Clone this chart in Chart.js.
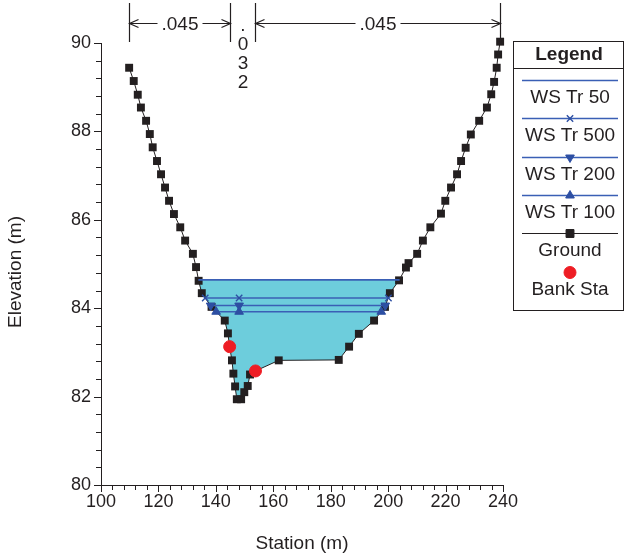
<!DOCTYPE html>
<html>
<head>
<meta charset="utf-8">
<script src="https://cdn.jsdelivr.net/npm/chart.js"></script>
<style>
  html, body { margin: 0; padding: 0; background: #fff; }
  #wrap { width: 624px; height: 559px; }
</style>
</head>
<body>
<div id="wrap"><canvas id="xsec" width="624" height="559"></canvas></div>
<script>
// cross section ground points (station m, elevation m)
const groundSta = [
  109.8, 111.4, 112.8, 113.9, 115.7, 117.0, 118.0, 119.5, 120.9, 122.3,
  123.7, 125.4, 127.6, 129.3, 132.0, 133.1, 134.0, 135.1, 138.5, 143.1,
  144.2, 144.8, 145.6, 146.1, 146.7, 147.3, 148.8, 149.9, 151.1, 151.9,
  153.8, 161.9, 182.8, 186.4, 189.8, 195.1, 198.9, 200.6, 203.8, 206.2,
  207.1, 210.1, 212.1, 214.7, 218.4, 219.9, 221.9, 224.0, 225.4, 227.0,
  228.8, 231.7, 234.4, 235.9, 236.9, 237.8, 238.3, 239.0
];
const groundElev = [
  89.44, 89.14, 88.83, 88.54, 88.24, 87.94, 87.64, 87.33, 87.03, 86.73,
  86.43, 86.13, 85.83, 85.53, 85.23, 84.93, 84.62, 84.34, 84.03, 83.72,
  83.43, 83.13, 82.82, 82.52, 82.23, 81.94, 81.94, 82.10, 82.24, 82.50,
  82.58, 82.82, 82.83, 83.13, 83.42, 83.72, 84.03, 84.34, 84.63, 84.92,
  85.02, 85.23, 85.53, 85.83, 86.14, 86.43, 86.73, 87.03, 87.33, 87.63,
  87.93, 88.24, 88.54, 88.84, 89.12, 89.44, 89.74, 90.03
];

// bank stations
const bankSta = [144.8, 153.8];
const bankElev = [83.13, 82.58];

// water surfaces
const wsNames = ['WS Tr 50', 'WS Tr 500', 'WS Tr 200', 'WS Tr 100'];
const wsElev = [84.64, 84.23, 84.06, 83.92];
const wsLeft = [133.9, 136.3, 138.2, 140.1];
const wsMid = [148.1, 148.1, 148.1, 148.1];
const wsRight = [204.0, 200.1, 199.0, 197.6];
const wsMarker = [false, 'crossRot', 'triangle', 'triangle'];
const wsRotation = [0, 0, 180, 0];

// manning's n changes
const nSta = [109.8, 144.8, 153.8, 239.0];
const nLabels = ['.045', '.032', '.045'];

const xTicks = { min: 100, max: 240, step: 4, major: 20 };
const yTicks = { min: 80, max: 90, step: 0.4, major: 2 };

const FONT = '"Liberation Sans", Arial, Helvetica, sans-serif';
const INK = '#231f20';
const WS_LINE = '#3a5fb5';
const WS_MARK = '#2d4fa3';
const WATER = '#6dcddc';

const isMajor = (v, m) => Math.abs(v / m - Math.round(v / m)) < 1e-6;

const datasets = [];
datasets.push({
  label: 'Bank Sta',
  data: bankSta.map((s, i) => ({ x: s, y: bankElev[i] })),
  showLine: false,
  pointStyle: 'circle',
  pointRadius: 6,
  pointBackgroundColor: '#ee1d24',
  pointBorderColor: '#ee1d24',
  order: 0,
  clip: false
});
wsNames.forEach((name, i) => {
  datasets.push({
    label: name,
    data: [
      { x: wsLeft[i], y: wsElev[i] },
      { x: wsMid[i], y: wsElev[i] },
      { x: wsRight[i], y: wsElev[i] }
    ],
    borderColor: WS_LINE,
    borderWidth: 1.6,
    pointStyle: wsMarker[i] || 'circle',
    pointRadius: wsMarker[i] ? (wsMarker[i] === 'crossRot' ? 4.5 : 5) : 0,
    pointRotation: wsRotation[i],
    pointBorderWidth: wsMarker[i] === 'crossRot' ? 1.4 : 1,
    pointBackgroundColor: WS_MARK,
    pointBorderColor: WS_MARK,
    tension: 0,
    fill: false,
    order: i + 1
  });
});
datasets.push({
  label: 'Ground',
  data: groundSta.map((s, i) => ({ x: s, y: groundElev[i] })),
  borderColor: INK,
  borderWidth: 1,
  pointStyle: 'rect',
  pointRadius: 5.6,
  pointBackgroundColor: INK,
  pointBorderColor: INK,
  pointBorderWidth: 0,
  tension: 0,
  fill: { target: { value: Math.max(...wsElev) }, above: 'rgba(0,0,0,0)', below: WATER },
  order: 10,
  clip: false
});

// small plugins: tick marks, axis titles, n-value bar, legend box
const tickMarks = {
  id: 'tickMarks',
  afterDraw(chart) {
    const { ctx, chartArea } = chart;
    const x = chart.scales.x, y = chart.scales.y;
    ctx.save();
    ctx.strokeStyle = INK;
    ctx.lineWidth = 1;
    ctx.beginPath();
    x.ticks.forEach(t => {
      const p = Math.round(x.getPixelForValue(t.value)) + 0.5;
      const len = isMajor(t.value, xTicks.major) ? 7 : 5;
      ctx.moveTo(p, chartArea.bottom);
      ctx.lineTo(p, chartArea.bottom + len);
    });
    y.ticks.forEach(t => {
      const p = Math.round(y.getPixelForValue(t.value)) + 0.5;
      const len = isMajor(t.value, yTicks.major) ? 7 : 5;
      ctx.moveTo(chartArea.left, p);
      ctx.lineTo(chartArea.left - len, p);
    });
    ctx.stroke();

    ctx.fillStyle = INK;
    ctx.font = '19px ' + FONT;
    ctx.textAlign = 'center';
    ctx.textBaseline = 'middle';
    ctx.fillText('Station (m)', (chartArea.left + chartArea.right) / 2, 544);
    ctx.translate(16, (chartArea.top + chartArea.bottom) / 2 + 8);
    ctx.rotate(-Math.PI / 2);
    ctx.fillText('Elevation (m)', 0, 0);
    ctx.restore();
  }
};

function arrowHead(ctx, tipX, y, dir) {
  ctx.moveTo(tipX + dir * 9, y - 4);
  ctx.lineTo(tipX, y);
  ctx.lineTo(tipX + dir * 9, y + 4);
}

const nValueBar = {
  id: 'nValueBar',
  afterDraw(chart) {
    const { ctx } = chart;
    const x = chart.scales.x;
    const px = nSta.map(s => Math.round(x.getPixelForValue(s)) + 0.5);
    const ay = 23.5;
    ctx.save();
    ctx.strokeStyle = INK;
    ctx.fillStyle = INK;
    ctx.lineWidth = 1.2;
    ctx.font = '19px ' + FONT;
    ctx.beginPath();
    px.forEach(p => { ctx.moveTo(p, 3); ctx.lineTo(p, 42); });
    ctx.stroke();
    nLabels.forEach((lab, i) => {
      const a = px[i], b = px[i + 1], mid = (a + b) / 2;
      const w = ctx.measureText(lab).width;
      if (w + 30 < b - a) {
        ctx.beginPath();
        ctx.moveTo(a, ay); ctx.lineTo(mid - w / 2 - 4, ay);
        ctx.moveTo(mid + w / 2 + 4, ay); ctx.lineTo(b, ay);
        arrowHead(ctx, a, ay, 1);
        arrowHead(ctx, b, ay, -1);
        ctx.stroke();
        ctx.textAlign = 'center';
        ctx.textBaseline = 'alphabetic';
        ctx.fillText(lab, mid, 30);
      } else {
        ctx.textAlign = 'center';
        ctx.textBaseline = 'alphabetic';
        lab.split('').forEach((ch, k) => ctx.fillText(ch, mid, 30.5 + k * 19));
      }
    });
    ctx.restore();
  }
};

function marker(ctx, style, r, rot, color, bw, cx, cy) {
  if (!style || r <= 0) return;
  ctx.save();
  ctx.fillStyle = color;
  ctx.strokeStyle = color;
  ctx.lineWidth = bw;
  Chart.helpers.drawPoint(ctx, { pointStyle: style, radius: r, rotation: rot, borderWidth: bw }, cx, cy);
  ctx.restore();
}

const legendBox = {
  id: 'legendBox',
  afterDraw(chart) {
    const { ctx } = chart;
    const L = 513.5, R = 623.5, T = 41.5, B = 310.5, cx = 569;
    ctx.save();
    ctx.strokeStyle = INK;
    ctx.lineWidth = 1;
    ctx.strokeRect(L, T, R - L, B - T);
    ctx.beginPath();
    ctx.moveTo(L, 68.5); ctx.lineTo(R, 68.5);
    ctx.stroke();
    ctx.fillStyle = INK;
    ctx.textAlign = 'center';
    ctx.textBaseline = 'middle';
    ctx.font = 'bold 19px ' + FONT;
    ctx.fillText('Legend', cx, 55);
    const entries = [];
    for (let i = 1; i <= wsNames.length; i++) entries.push(chart.data.datasets[i]);
    entries.push(chart.data.datasets[wsNames.length + 1]);
    entries.push(chart.data.datasets[0]);
    ctx.font = '19px ' + FONT;
    entries.forEach((ds, i) => {
      const ly = Math.round(80 + 38.3 * i) + 0.5;
      if (ds.showLine !== false) {
        ctx.strokeStyle = ds.borderColor;
        ctx.lineWidth = ds.borderWidth;
        ctx.beginPath();
        ctx.moveTo(522, ly); ctx.lineTo(618, ly);
        ctx.stroke();
      }
      if (ds.pointRadius > 0) {
        marker(ctx, ds.pointStyle, ds.pointRadius, ds.pointRotation || 0,
          ds.pointBackgroundColor, ds.pointBorderWidth || 1, cx + 1, ly);
      }
      ctx.fillStyle = INK;
      ctx.fillText(ds.label, cx + 1, ly + 17);
    });
    ctx.restore();
  }
};

new Chart(document.getElementById('xsec'), {
  type: 'line',
  data: { datasets },
  options: {
    responsive: false,
    animation: false,
    devicePixelRatio: 1,
    layout: { padding: { left: 0, top: 43, right: 121, bottom: 0 } },
    plugins: {
      legend: { display: false },
      tooltip: { enabled: false },
      filler: { drawTime: 'beforeDatasetsDraw' }
    },
    scales: {
      x: {
        type: 'linear',
        min: xTicks.min,
        max: xTicks.max,
        afterFit(s) { s.height = 74; },
        grid: { display: true, drawOnChartArea: false, drawTicks: false },
        border: { display: true, color: INK, width: 1 },
        ticks: {
          stepSize: xTicks.step,
          autoSkip: false,
          maxRotation: 0,
          padding: 6,
          color: INK,
          font: { family: FONT, size: 18 },
          callback: v => isMajor(v, xTicks.major) ? String(Math.round(v)) : ''
        }
      },
      y: {
        type: 'linear',
        min: yTicks.min,
        max: yTicks.max,
        afterFit(s) { s.width = 101; },
        grid: { display: true, drawOnChartArea: false, drawTicks: false },
        border: { display: true, color: INK, width: 1 },
        ticks: {
          stepSize: yTicks.step,
          autoSkip: false,
          padding: 10,
          color: INK,
          font: { family: FONT, size: 18 },
          callback: v => isMajor(v, yTicks.major) ? String(Math.round(v)) : ''
        }
      }
    }
  },
  plugins: [tickMarks, nValueBar, legendBox]
});
</script>
</body>
</html>
